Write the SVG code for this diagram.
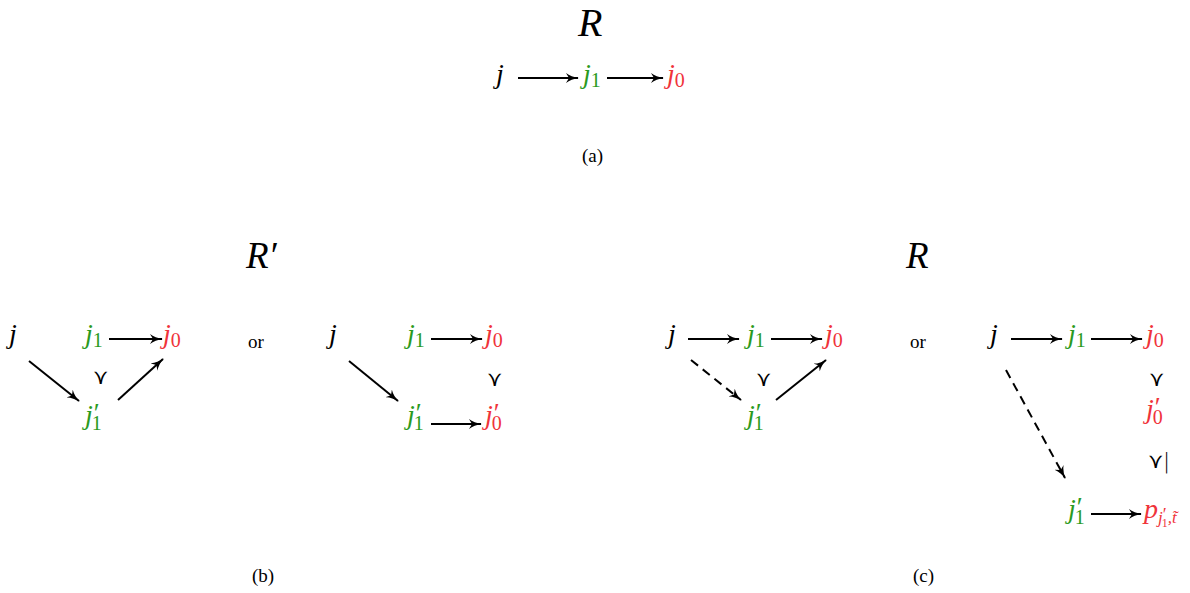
<svg xmlns="http://www.w3.org/2000/svg" width="1190" height="593" viewBox="0 0 1190 593">
<style>
text{font-family:"Liberation Serif","DejaVu Serif",serif;}
.m{font-style:italic;font-size:28px;}
.s{font-style:normal;font-size:20px;}
.p{font-style:normal;font-size:27px;}
.g{fill:#2a9a1e;}
.r{fill:#f0333a;}
.k{fill:#000;}
.big{font-style:italic;font-size:40px;}
.cap{font-size:19px;}
.or{font-size:19px;}
.sym{font-family:"DejaVu Sans",sans-serif;font-weight:200;font-size:21px;}
.c{stroke:#000;stroke-width:2;fill:none;marker-end:url(#ah);}
.d{stroke-dasharray:9,6;}
</style>
<defs>
<marker id="ah" markerWidth="14" markerHeight="10" refX="12" refY="5" orient="auto" markerUnits="userSpaceOnUse">
<path d="M0,0 Q5,4 13,5 Q5,6 0,10 L3,5 Z" fill="#000"/>
</marker>
</defs>

<g id="connectors">
<line class="c" x1="518" y1="78" x2="578" y2="78"/>
<line class="c" x1="607" y1="78" x2="663" y2="78"/>
<line class="c" x1="109" y1="339" x2="162" y2="339"/>
<line class="c" x1="29" y1="361" x2="79" y2="401"/>
<line class="c" x1="118" y1="400" x2="163" y2="359"/>
<line class="c" x1="431" y1="339" x2="482" y2="339"/>
<line class="c" x1="349" y1="361" x2="398" y2="401"/>
<line class="c" x1="431" y1="424" x2="481" y2="424"/>
<line class="c" x1="688" y1="339" x2="739" y2="339"/>
<line class="c" x1="771" y1="339" x2="822" y2="339"/>
<line class="c d" x1="691" y1="360" x2="741" y2="400"/>
<line class="c" x1="776" y1="400" x2="826" y2="360"/>
<line class="c" x1="1011" y1="339" x2="1062" y2="339"/>
<line class="c" x1="1091" y1="339" x2="1142" y2="339"/>
<line class="c d" x1="1006" y1="370" x2="1065" y2="478"/>
<line class="c" x1="1091" y1="514" x2="1141" y2="514"/>
</g>

<g id="title-a"><text class="big" x="578" y="36">R</text></g>
<g id="a-j"><text class="m k" x="496" y="83">j</text></g>
<g id="a-j1"><text class="m g" x="583" y="83">j<tspan class="s" dy="4">1</tspan></text></g>
<g id="a-j0"><text class="m r" x="667" y="83">j<tspan class="s" dy="4">0</tspan></text></g>
<g id="cap-a"><text class="cap" x="582" y="162">(a)</text></g>

<g id="title-b"><text class="big" style="font-size:37px" x="246" y="268">R′</text></g>
<g id="b1-j"><text class="m k" x="9" y="343">j</text></g>
<g id="b1-j1"><text class="m g" x="85" y="343">j<tspan class="s" dy="4">1</tspan></text></g>
<g id="b1-j0"><text class="m r" x="163" y="343">j<tspan class="s" dy="4">0</tspan></text></g>
<g id="b1-succ"><text class="sym" x="100" y="384" text-anchor="middle">⋎</text></g>
<g id="b1-j1p"><text class="m g" x="85" y="424">j<tspan class="p" dx="1" dy="-2">′</tspan><tspan class="s" dx="-8" dy="8">1</tspan></text></g>
<g id="b-or"><text class="or" x="248" y="348">or</text></g>
<g id="b2-j"><text class="m k" x="329" y="343">j</text></g>
<g id="b2-j1"><text class="m g" x="407" y="343">j<tspan class="s" dy="4">1</tspan></text></g>
<g id="b2-j0"><text class="m r" x="485" y="343">j<tspan class="s" dy="4">0</tspan></text></g>
<g id="b2-succ"><text class="sym" x="494" y="386" text-anchor="middle">⋎</text></g>
<g id="b2-j1p"><text class="m g" x="407" y="424">j<tspan class="p" dx="1" dy="-2">′</tspan><tspan class="s" dx="-8" dy="8">1</tspan></text></g>
<g id="b2-j0p"><text class="m r" x="485" y="424">j<tspan class="p" dx="1" dy="-2">′</tspan><tspan class="s" dx="-8" dy="8">0</tspan></text></g>
<g id="cap-b"><text class="cap" x="252" y="582">(b)</text></g>

<g id="title-c"><text class="big" style="font-size:37px" x="906" y="268">R</text></g>
<g id="c1-j"><text class="m k" x="668" y="343">j</text></g>
<g id="c1-j1"><text class="m g" x="747" y="343">j<tspan class="s" dy="4">1</tspan></text></g>
<g id="c1-j0"><text class="m r" x="825" y="343">j<tspan class="s" dy="4">0</tspan></text></g>
<g id="c1-succ"><text class="sym" x="763" y="386" text-anchor="middle">⋎</text></g>
<g id="c1-j1p"><text class="m g" x="747" y="424">j<tspan class="p" dx="1" dy="-2">′</tspan><tspan class="s" dx="-8" dy="8">1</tspan></text></g>
<g id="c-or"><text class="or" x="910" y="348">or</text></g>
<g id="c2-j"><text class="m k" x="990" y="343">j</text></g>
<g id="c2-j1"><text class="m g" x="1068" y="343">j<tspan class="s" dy="4">1</tspan></text></g>
<g id="c2-j0"><text class="m r" x="1146" y="343">j<tspan class="s" dy="4">0</tspan></text></g>
<g id="c2-succ"><text class="sym" x="1156" y="386" text-anchor="middle">⋎</text></g>
<g id="c2-j0p"><text class="m r" x="1146" y="418">j<tspan class="p" dx="1" dy="-2">′</tspan><tspan class="s" dx="-8" dy="8">0</tspan></text></g>
<g id="c2-succeq"><text class="sym" x="1148" y="468">⋎|</text></g>
<g id="c2-j1p"><text class="m g" x="1068" y="518">j<tspan class="p" dx="1" dy="-2">′</tspan><tspan class="s" dx="-8" dy="8">1</tspan></text></g>
<g id="c2-p"><text class="m r" x="1144" y="518">p<tspan style="font-size:17px" dy="5">j</tspan><tspan style="font-size:18px;font-style:normal" dx="0" dy="-2">′</tspan><tspan style="font-size:12px;font-style:normal" dx="-5" dy="6">1</tspan><tspan style="font-size:17px" dy="-4">,t̃</tspan></text></g>
<g id="cap-c"><text class="cap" x="913" y="582">(c)</text></g>
</svg>
